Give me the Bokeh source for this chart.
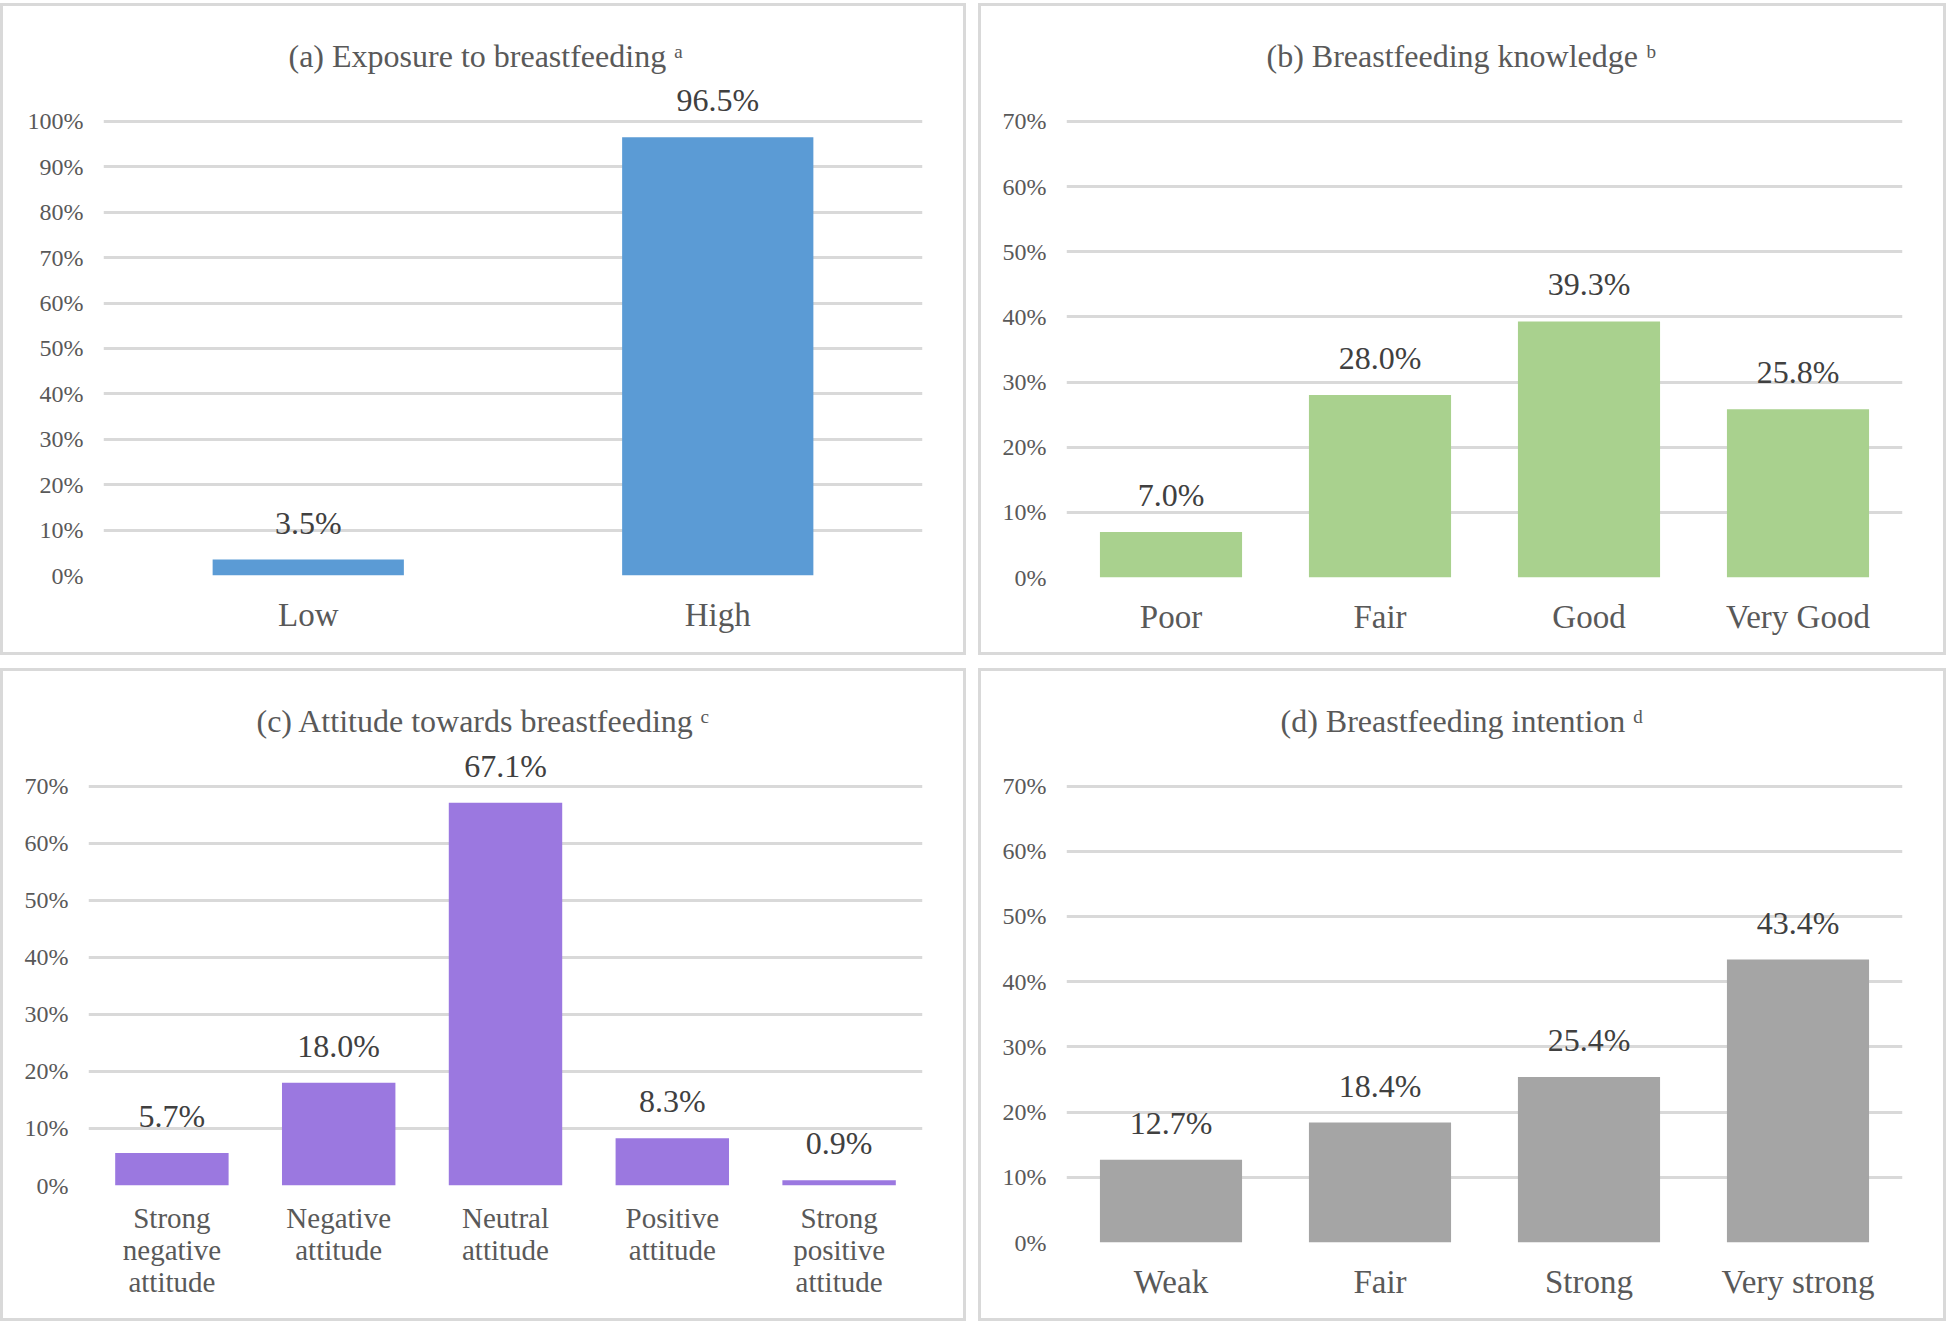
from bokeh.plotting import figure
from bokeh.models import ColumnDataSource, LabelSet, FixedTicker, PrintfTickFormatter, Range1d
from bokeh.layouts import column, row
from bokeh.embed import file_html
from bokeh.resources import INLINE

FONT = "'Liberation Serif', 'Times New Roman', serif"
AXIS_COLOR = "#595959"
VALUE_COLOR = "#404040"
GRID_COLOR = "#d9d9d9"

# ---- data ----
title_a = "(a) Exposure to breastfeeding \u1d43"
cats_a = ["Low", "High"]
vals_a = [3.5, 96.5]

title_b = "(b) Breastfeeding knowledge \u1d47"
cats_b = ["Poor", "Fair", "Good", "Very Good"]
vals_b = [7.0, 28.0, 39.3, 25.8]

title_c = "(c) Attitude towards breastfeeding \u1d9c"
cats_c = ["Strong\nnegative\nattitude", "Negative\nattitude", "Neutral\nattitude",
          "Positive\nattitude", "Strong\npositive\nattitude"]
vals_c = [5.7, 18.0, 67.1, 8.3, 0.9]

title_d = "(d) Breastfeeding intention \u1d48"
cats_d = ["Weak", "Fair", "Strong", "Very strong"]
vals_d = [12.7, 18.4, 25.4, 43.4]


def panel(title, cats, vals, color, ymax, yend, bar_w, w, h, left, right, bottom,
          title_offset, x_standoff, cat_size):
    src = ColumnDataSource(dict(cats=cats, vals=vals, labels=[f"{v:.1f}%" for v in vals]))
    p = figure(x_range=cats, y_range=Range1d(0, yend), width=w, height=h,
               output_backend="svg", toolbar_location=None,
               min_border_left=left, min_border_right=right,
               min_border_top=79, min_border_bottom=bottom)
    p.styles = {"border": "3px solid #d9d9d9"}
    p.vbar(x="cats", top="vals", width=bar_w, source=src, fill_color=color, line_color=None)
    p.add_layout(LabelSet(x="cats", y="vals", text="labels", source=src,
                          text_align="center", text_baseline="alphabetic", y_offset=26,
                          text_font=FONT, text_font_size="32px", text_color=VALUE_COLOR))
    p.title.text = title
    p.title.align = "left"
    p.title.offset = title_offset
    p.title.text_font = FONT
    p.title.text_font_size = "32px"
    p.title.text_font_style = "normal"
    p.title.text_color = AXIS_COLOR
    p.title.standoff = 24

    p.outline_line_color = None
    p.xgrid.grid_line_color = None
    p.ygrid.grid_line_color = GRID_COLOR
    p.ygrid.grid_line_width = 3

    p.yaxis.ticker = FixedTicker(ticks=list(range(0, ymax + 1, 10)))
    p.yaxis.formatter = PrintfTickFormatter(format="%d%%")
    p.yaxis.axis_line_color = None
    p.yaxis.major_tick_line_color = None
    p.yaxis.minor_tick_line_color = None
    p.yaxis.major_tick_out = 0
    p.yaxis.major_label_standoff = 20
    p.yaxis.major_label_text_font = FONT
    p.yaxis.major_label_text_font_size = "24px"
    p.yaxis.major_label_text_color = AXIS_COLOR

    p.xaxis.axis_line_color = None
    p.xaxis.major_tick_line_color = None
    p.xaxis.major_tick_out = 0
    p.xaxis.major_label_standoff = x_standoff
    p.xaxis.major_label_text_font = FONT
    p.xaxis.major_label_text_font_size = cat_size
    p.xaxis.major_label_text_line_height = 1.0
    p.xaxis.major_label_text_color = AXIS_COLOR
    p.x_range.range_padding = 0
    return p


pa = panel(title_a, cats_a, vals_a, "#5b9bd5", 100, 107.9, 0.467, 966, 652, 100, 47, 83, 185, 21, "33px")
pb = panel(title_b, cats_b, vals_b, "#a9d18e", 70, 75.5, 0.68, 968, 652, 85, 47, 81, 200, 21, "33px")
pc = panel(title_c, cats_c, vals_c, "#9b78e0", 70, 76.24, 0.68, 966, 653, 85, 47, 139, 168, 16, "29px")
pd = panel(title_d, cats_d, vals_d, "#a5a5a5", 70, 75.46, 0.68, 968, 653, 85, 47, 82, 214, 21, "33px")

layout = column(row(column(pa), column(pb), spacing=12),
                row(column(pc), column(pd), spacing=12), spacing=13)
layout.styles = {"margin-top": "3px"}

with open("out.html", "w") as f:
    f.write(file_html(layout, INLINE))
